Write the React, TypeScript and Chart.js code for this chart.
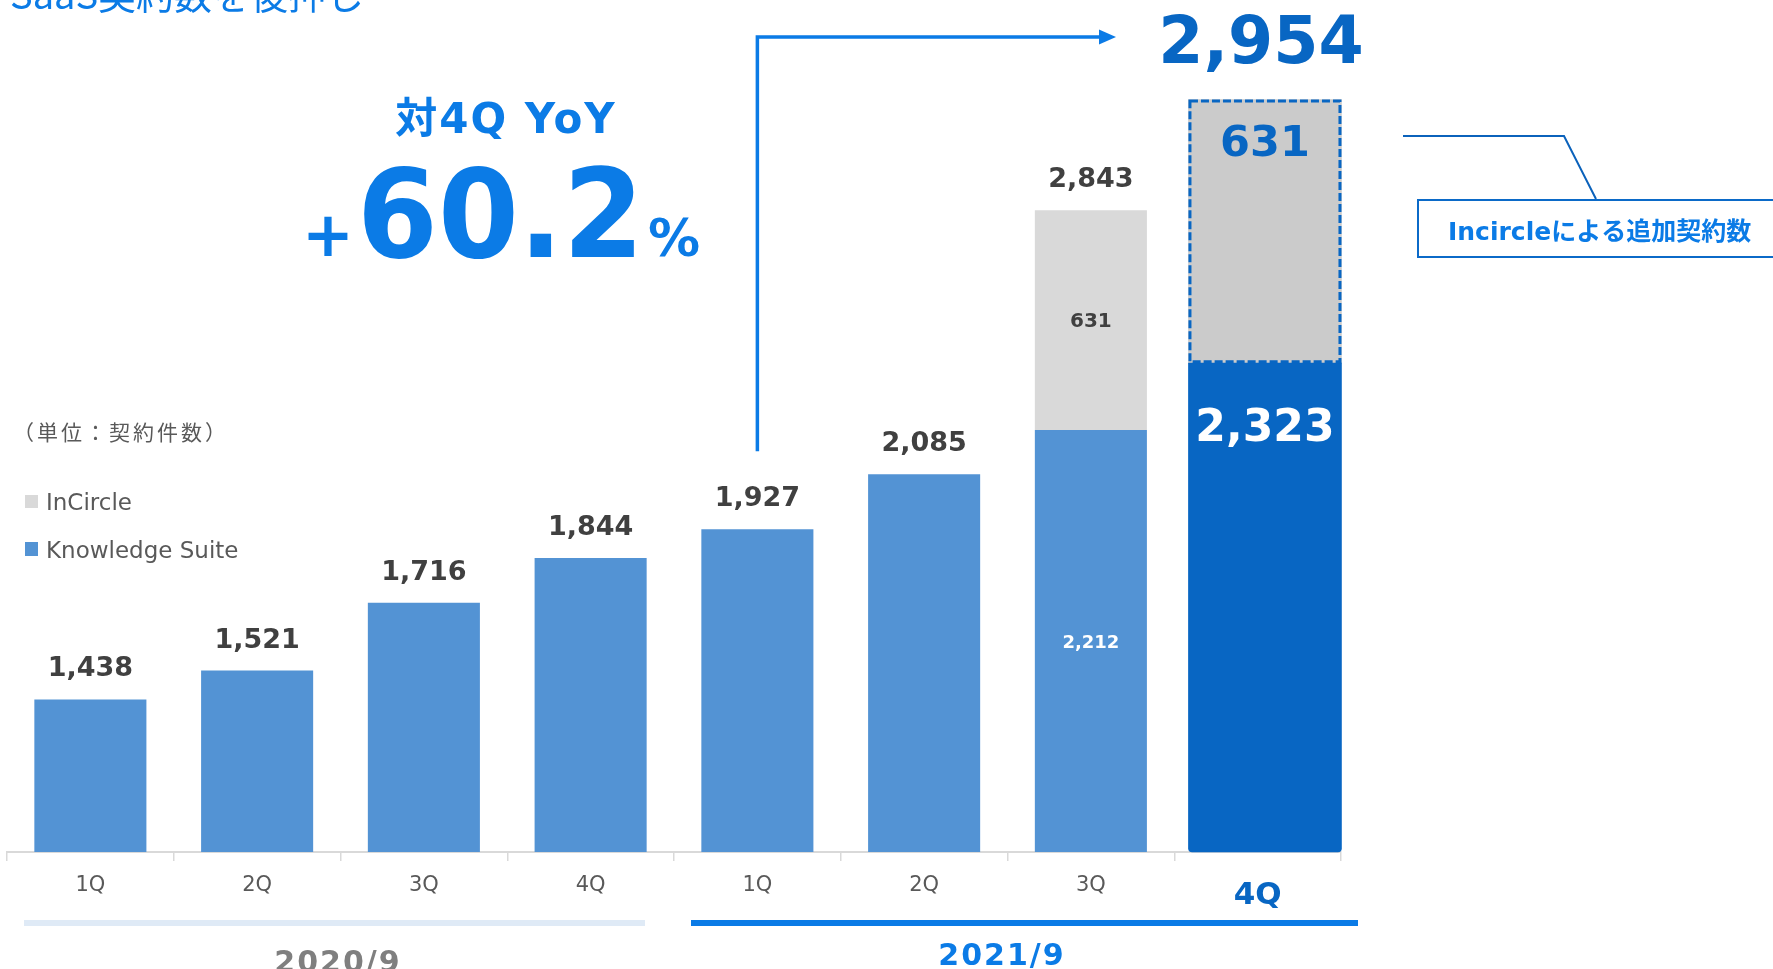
import React, { useEffect, useRef } from 'react';
import { Chart, registerables } from 'chart.js';

Chart.register(...registerables);

// ---- data ----
const categories = ['1Q', '2Q', '3Q', '4Q', '1Q', '2Q', '3Q', '4Q'];
const fiscalYears = ['2020/9', '2021/9'];
const knowledgeSuite: (number | null)[] = [1438, 1521, 1716, 1844, 1927, 2085, 2212, null];
const inCircle: (number | null)[] = [null, null, null, null, null, null, 631, null];
const knowledgeSuite4Q = 2323;
const inCircle4Q = 631;
const yoyGrowth = '60.2';

const titleText = 'SaaS契約数を後押し';
const unitLabel = '（単位：契約件数）';
const yoyLabel = '対4Q YoY';
const calloutLabel = 'Incircleによる追加契約数';
const seriesNames = ['InCircle', 'Knowledge Suite'];

// axis ranges (main bars and the emphasised 4Q bar)
const Y_MIN = 1000;
const Y_MAX = 3300;
const Y2_MIN = 1153;
const Y2_MAX = 3070;

const COLORS = {
  ks: '#5393d4',
  ic: '#d9d9d9',
  ks4: '#0866c3',
  ic4: '#cbcbcb',
  dark: '#404040',
  axis: '#595959',
  accent: '#0b7be6',
  deep: '#0866c3',
  pale: '#dfeaf6',
  yearGray: '#7f7f7f',
};
const FONT = '"DejaVu Sans", "Noto Sans CJK JP", sans-serif';
const JPFONT = '"Noto Sans CJK JP", "DejaVu Sans", sans-serif';
const fmt = (v: number) => v.toLocaleString('en-US');
const lastIndex = categories.length - 1;

const annotationPlugin = {
  id: 'annotations',
  afterDraw(chart: any) {
    const ctx = chart.ctx as CanvasRenderingContext2D;
    const bottom = chart.chartArea.bottom;
    const mKs = chart.getDatasetMeta(0);
    const mIc = chart.getDatasetMeta(1);
    const mKs4 = chart.getDatasetMeta(2);
    const mIc4 = chart.getDatasetMeta(3);
    const text = (
      s: string, x: number, y: number, font: string, color: string,
      align: CanvasTextAlign = 'center', spacing = '0px'
    ) => {
      ctx.font = font;
      ctx.fillStyle = color;
      ctx.textAlign = align;
      ctx.textBaseline = 'alphabetic';
      (ctx as any).letterSpacing = spacing;
      ctx.fillText(s, x, y);
      (ctx as any).letterSpacing = '0px';
    };
    ctx.save();

    // value labels for regular bars
    knowledgeSuite.forEach((ks, i) => {
      if (ks == null) return;
      const el = mKs.data[i];
      const ic = inCircle[i];
      const top = ic != null ? mIc.data[i] : el;
      text(fmt(ks + (ic ?? 0)), top.x, top.y - 23, `bold 27px ${FONT}`, COLORS.dark);
      if (ic != null) {
        const b = Math.min(el.base, bottom);
        text(fmt(ks), el.x, (el.y + b) / 2 + 7, `bold 18px ${FONT}`, '#ffffff');
        text(fmt(ic), top.x, (top.y + top.base) / 2 + 7, `bold 20px ${FONT}`, COLORS.dark);
      }
    });

    // 4Q highlighted bar
    const b4 = mKs4.data[0];
    const g4 = mIc4.data[0];
    ctx.setLineDash([8, 3]);
    ctx.lineWidth = 3;
    ctx.strokeStyle = COLORS.deep;
    ctx.strokeRect(g4.x - g4.width / 2 + 1.5, g4.y + 1.5, g4.width - 3, g4.base - g4.y - 3);
    ctx.setLineDash([]);
    text(fmt(knowledgeSuite4Q), b4.x, b4.y + 78, `bold 44px ${FONT}`, '#ffffff');
    text(fmt(inCircle4Q), g4.x, g4.y + 57, `bold 43px ${FONT}`, COLORS.deep);
    text(fmt(knowledgeSuite4Q + inCircle4Q), g4.x - 4, g4.y - 36, `bold 65px ${FONT}`, COLORS.deep);

    // arrow from 1Q (2021) to the total
    const a = mKs.data[4];
    ctx.strokeStyle = COLORS.accent;
    ctx.lineWidth = 3.5;
    ctx.beginPath();
    ctx.moveTo(a.x, a.y - 78);
    ctx.lineTo(a.x, 37);
    ctx.lineTo(1101, 37);
    ctx.stroke();
    ctx.fillStyle = COLORS.accent;
    ctx.beginPath();
    ctx.moveTo(1099, 29.5);
    ctx.lineTo(1116, 37);
    ctx.lineTo(1099, 44.5);
    ctx.closePath();
    ctx.fill();

    // title (cut at top)
    text(titleText, 10, 9, `38px ${JPFONT}`, COLORS.accent, 'left');

    // YoY
    text(yoyLabel, 506, 133, `bold 42px ${FONT}`, COLORS.accent, 'center', '2px');
    text('+', 302, 256, `bold 62px ${FONT}`, COLORS.accent, 'left');
    ctx.save();
    ctx.translate(357, 257);
    ctx.scale(0.945, 1);
    text(yoyGrowth, 0, 0, `bold 123px ${FONT}`, COLORS.accent, 'left');
    ctx.restore();
    text('%', 648, 256, `bold 52px ${FONT}`, COLORS.accent, 'left');

    // unit & legend
    text(unitLabel, 13, 440, `21px ${JPFONT}`, COLORS.axis, 'left', '3px');
    ctx.fillStyle = COLORS.ic;
    ctx.fillRect(25, 495, 13, 13);
    text(seriesNames[0], 46, 510, `23px ${FONT}`, COLORS.axis, 'left');
    ctx.fillStyle = COLORS.ks;
    ctx.fillRect(25, 542, 13, 14);
    text(seriesNames[1], 46, 558, `23px ${FONT}`, COLORS.axis, 'left');

    // callout
    ctx.strokeStyle = '#0b62bb';
    ctx.lineWidth = 2;
    ctx.beginPath();
    ctx.moveTo(1403, 136);
    ctx.lineTo(1564, 136);
    ctx.lineTo(1596, 199);
    ctx.stroke();
    ctx.strokeStyle = '#0b6ac8';
    ctx.strokeRect(1418, 200, 420, 57);
    text(calloutLabel, 1448, 240, `bold 25px ${FONT}`, COLORS.accent, 'left');

    // fiscal year bands
    ctx.fillStyle = COLORS.pale;
    ctx.fillRect(24, 920, 621, 6);
    ctx.fillStyle = COLORS.accent;
    ctx.fillRect(691, 920, 667, 6);
    text(fiscalYears[0], 338, 972, `bold 30px ${FONT}`, COLORS.yearGray, 'center', '2px');
    text(fiscalYears[1], 1002, 965, `bold 30px ${FONT}`, COLORS.accent, 'center', '2px');

    ctx.restore();
  },
};

export default function App() {
  const ref = useRef<HTMLCanvasElement | null>(null);

  useEffect(() => {
    if (!ref.current) return;
    const chart = new Chart(ref.current, {
      type: 'bar',
      data: {
        labels: categories,
        datasets: [
          {
            label: seriesNames[1],
            data: knowledgeSuite,
            backgroundColor: COLORS.ks,
            stack: 's',
            xAxisID: 'x',
            yAxisID: 'y',
            base: Y_MIN,
            grouped: false,
            barPercentage: 0.672,
            categoryPercentage: 1,
          },
          {
            label: seriesNames[0],
            data: inCircle,
            backgroundColor: COLORS.ic,
            stack: 's',
            xAxisID: 'x',
            yAxisID: 'y',
            grouped: false,
            barPercentage: 0.672,
            categoryPercentage: 1,
          },
          {
            label: seriesNames[1] + ' 4Q',
            data: [{ x: lastIndex, y: knowledgeSuite4Q }],
            backgroundColor: COLORS.ks4,
            stack: 's',
            xAxisID: 'x2',
            yAxisID: 'y2',
            base: Y2_MIN,
            grouped: false,
            barPercentage: 1,
            categoryPercentage: 1,
            maxBarThickness: 153,
            borderSkipped: false,
            borderRadius: { topLeft: 0, topRight: 0, bottomLeft: 4, bottomRight: 4 },
            clip: false,
          },
          {
            label: seriesNames[0] + ' 4Q',
            data: [{ x: lastIndex, y: inCircle4Q }],
            backgroundColor: COLORS.ic4,
            stack: 's',
            xAxisID: 'x2',
            yAxisID: 'y2',
            grouped: false,
            barPercentage: 1,
            categoryPercentage: 1,
            maxBarThickness: 153,
            clip: false,
          },
        ] as any,
      },
      options: {
        responsive: false,
        animation: false,
        devicePixelRatio: 1,
        layout: { padding: { left: 7, right: 432, top: 51, bottom: 0 } },
        plugins: {
          legend: { display: false },
          tooltip: { enabled: false },
          title: { display: false },
        },
        scales: {
          x: {
            type: 'category',
            stacked: true,
            offset: true,
            grid: {
              display: true,
              drawOnChartArea: false,
              drawTicks: true,
              tickLength: 9,
              color: '#d9d9d9',
              lineWidth: 1.5,
              offset: true,
            },
            border: { display: true, color: '#d9d9d9', width: 2 },
            ticks: {
              autoSkip: false,
              maxRotation: 0,
              padding: 12,
              color: (c: any) => (c.index === lastIndex ? COLORS.deep : COLORS.axis),
              font: (c: any) =>
                c.index === lastIndex
                  ? { family: FONT, size: 31, weight: 'bold', lineHeight: 1.5 }
                  : { family: FONT, size: 21, weight: 'normal' },
            },
            afterFit: (s: any) => {
              s.height = 117;
            },
          },
          x2: {
            type: 'linear',
            display: false,
            offset: false,
            stacked: true,
            min: -0.5 - 0.044,
            max: lastIndex + 0.5 - 0.044,
            afterBuildTicks: (s: any) => {
              s.ticks = [];
            },
          },
          y: {
            type: 'linear',
            display: false,
            stacked: true,
            min: Y_MIN,
            max: Y_MAX,
          },
          y2: {
            type: 'linear',
            display: false,
            stacked: true,
            min: Y2_MIN,
            max: Y2_MAX,
          },
        },
      } as any,
      plugins: [annotationPlugin],
    });
    return () => chart.destroy();
  }, []);

  return (
    <div style={{ position: 'fixed', left: 0, top: 0, width: 1773, height: 969, background: '#ffffff' }}>
      <canvas ref={ref} width={1773} height={969} style={{ display: 'block', width: 1773, height: 969 }} />
    </div>
  );
}
